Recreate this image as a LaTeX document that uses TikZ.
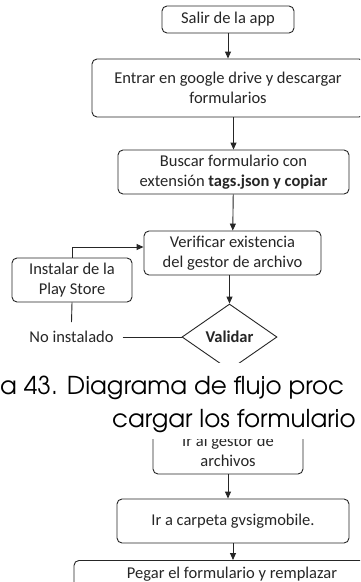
\documentclass[tikz,border=0pt]{standalone}
\usepackage{fontspec}
\setmainfont{Carlito}
\newfontfamily\capfont{TeX Gyre Adventor}
\usetikzlibrary{arrows.meta,positioning,shapes.geometric}

\begin{document}
\begin{tikzpicture}[x=1pt, y=-1pt, >={Triangle[width=6pt,length=7pt]},
  every node/.style={font=\fontsize{16.5}{20}\selectfont, text=black!85},
  box/.style={draw=black!85, rounded corners=5pt, line width=0.9pt, align=center, inner sep=0pt},
  flow/.style={draw=black!85, line width=0.9pt},
  caption/.style={font=\capfont\fontsize{24.6}{28}\selectfont, text=black, inner sep=0pt}]
  \clip (0,0) rectangle (360,582);
  \fill[white] (0,0) rectangle (360,582);
  % main column
  \node[box, minimum width=132pt, minimum height=27pt] (salir) at (228,19.5) {Salir de la app};
  \node[box, minimum width=272pt, minimum height=58pt] (entrar) at (228,88)
    {Entrar en google drive y descargar\\formularios};
  \node[box, minimum width=231pt, minimum height=44pt] (buscar) at (233.5,172)
    {Buscar formulario con\\extensión \textbf{tags.json y copiar}};
  \node[box, minimum width=177pt, minimum height=44pt] (verificar) at (232.5,253)
    {Verificar existencia\\del gestor de archivo};
  \node[box, minimum width=120pt, minimum height=44pt] (instalar) at (72,280)
    {Instalar de la\\Play Store};
  \node[diamond, draw=black!85, line width=0.9pt, minimum width=95pt, minimum height=66pt,
    inner sep=0pt] (validar) at (229.5,337) {\textbf{Validar}};
  \node[inner sep=0pt, outer sep=9pt] (noinst) at (71.5,337) {No instalado};
  \node[box, minimum width=150pt, minimum height=46pt] (gestor) at (228,451)
    {Ir al gestor de\\archivos};
  \node[box, minimum width=232pt, minimum height=44pt] (carpeta) at (233,521)
    {Ir a carpeta gvsigmobile.};
  \node[box, anchor=north, minimum width=316pt, text height=18pt, text depth=30pt] (pegar)
    at (232,560) {Pegar el formulario y remplazar};
  % connectors
  \draw[flow, ->] (salir) -- (entrar);
  \draw[flow, ->] (buscar.north |- entrar.south) -- (buscar.north);
  \draw[flow, ->] (buscar) -- (verificar);
  \draw[flow, ->] (validar.north |- verificar.south) -- (validar.north);
  \draw[flow, ->] (instalar.north) |- ([yshift=6pt]verificar.west);
  \draw[flow] (instalar.south) -- (noinst.north);
  \draw[flow] (noinst.east) -- (validar.west);
  \draw[flow, ->] (gestor.south) -- (gestor.south |- carpeta.north);
  \draw[flow, ->] (carpeta.south) -- (carpeta.south |- pegar.north);
  % caption over the chart
  \fill[white] (0,363) rectangle (360,439);
  \node[caption, anchor=base west] (cap1) at (0,394) {a 43. Diagrama de flujo proc};
  \node[caption, anchor=base west] (cap2) at (112,427) {cargar los formulario};
\end{tikzpicture}
\end{document}
